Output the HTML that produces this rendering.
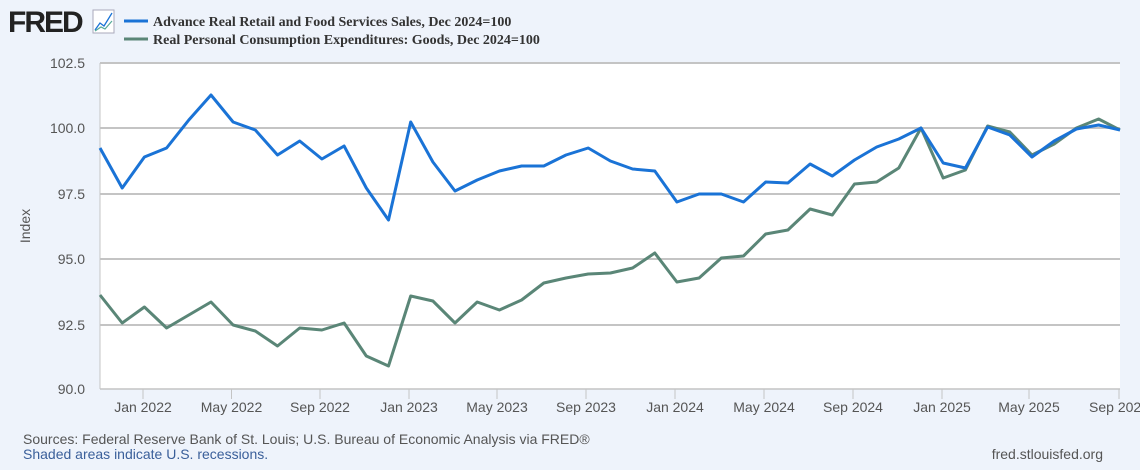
<!DOCTYPE html>
<html><head><meta charset="utf-8"><style>
body{margin:0;width:1140px;height:465px;background:#eef3fb;overflow:hidden;font-family:"Liberation Sans",sans-serif}
</style></head><body>
<svg width="1140" height="465" xmlns="http://www.w3.org/2000/svg">
<rect x="0" y="0" width="1140" height="465" fill="#eef3fb"/>
<rect x="100" y="63" width="1020" height="326" fill="#ffffff"/>
<g stroke="#c4c4c4" stroke-width="2">
<line x1="100" y1="63" x2="1120" y2="63"/>
<line x1="100" y1="128" x2="1120" y2="128"/>
<line x1="100" y1="194" x2="1120" y2="194"/>
<line x1="100" y1="259" x2="1120" y2="259"/>
<line x1="100" y1="325" x2="1120" y2="325"/>
</g>
<line x1="100" y1="389" x2="1120" y2="389" stroke="#c4c4c4" stroke-width="1.5"/>
<line x1="100" y1="63" x2="100" y2="389" stroke="#c4c4c4" stroke-width="1"/>
<g stroke="#c4c4c4" stroke-width="1">
<line x1="143" y1="389" x2="143" y2="399"/><line x1="231.5" y1="389" x2="231.5" y2="399"/>
<line x1="320" y1="389" x2="320" y2="399"/><line x1="409" y1="389" x2="409" y2="399"/>
<line x1="497" y1="389" x2="497" y2="399"/><line x1="586" y1="389" x2="586" y2="399"/>
<line x1="675" y1="389" x2="675" y2="399"/><line x1="764" y1="389" x2="764" y2="399"/>
<line x1="853" y1="389" x2="853" y2="399"/><line x1="942" y1="389" x2="942" y2="399"/>
<line x1="1029" y1="389" x2="1029" y2="399"/><line x1="1119" y1="389" x2="1119" y2="399"/>
</g>
<g font-size="14" fill="#555" text-anchor="end">
<text x="85" y="68">102.5</text><text x="85" y="133">100.0</text><text x="85" y="199">97.5</text>
<text x="85" y="264">95.0</text><text x="85" y="330">92.5</text><text x="85" y="394">90.0</text>
</g>
<g font-size="14" fill="#555" text-anchor="middle">
<text x="143" y="412">Jan 2022</text><text x="231.5" y="412">May 2022</text><text x="320" y="412">Sep 2022</text>
<text x="409" y="412">Jan 2023</text><text x="497" y="412">May 2023</text><text x="586" y="412">Sep 2023</text>
<text x="675" y="412">Jan 2024</text><text x="764" y="412">May 2024</text><text x="853" y="412">Sep 2024</text>
<text x="942" y="412">Jan 2025</text><text x="1029" y="412">May 2025</text><text x="1119" y="412">Sep 2025</text>
</g>
<text x="30" y="226" font-size="14" fill="#555" transform="rotate(-90 30 226)" text-anchor="middle">Index</text>
<polyline fill="none" stroke="#5a8677" stroke-width="3" stroke-linejoin="round" points="100,295 122.2,323 144.4,307 166.6,328 188.8,315 211,302 233.1,325 255.3,331 277.5,346 299.7,328 321.9,330 344.1,323 366.3,356 388.5,366 410.7,296 432.9,301 455,323 477.2,302 499.4,310 521.6,300 543.8,283 566,278 588.2,274 610.4,273 632.6,268 654.8,253 676.9,282 699.1,278 721.3,258 743.5,256 765.7,234 787.9,230 810.1,209 832.3,215 854.5,184 876.7,182 898.8,168 921,128 943.2,178 965.4,170 987.6,126 1009.8,132 1032,155 1054.2,144 1076.4,128 1098.6,119 1120,130"/>
<polyline fill="none" stroke="#1a73d6" stroke-width="3" stroke-linejoin="round" points="100,148 122.2,188 144.4,157 166.6,148 188.8,120 211,95 233.1,122 255.3,130 277.5,155 299.7,141 321.9,159 344.1,146 366.3,188 388.5,220 410.7,122 432.9,162 455,191 477.2,180 499.4,171 521.6,166 543.8,166 566,155 588.2,148 610.4,161 632.6,169 654.8,171 676.9,202 699.1,194 721.3,194 743.5,202 765.7,182 787.9,183 810.1,164 832.3,176 854.5,160 876.7,147 898.8,139 921,128 943.2,163 965.4,168 987.6,127 1009.8,135 1032,157 1054.2,141 1076.4,129 1098.6,125 1120,130"/>
<text x="8" y="32" font-size="30" font-weight="bold" fill="#222" letter-spacing="-2">FRED</text>
<rect x="93" y="10" width="21" height="23" fill="#fff" stroke="#aab" stroke-width="1"/>
<polyline points="95,30 100,23 104,26 112,13" fill="none" stroke="#1a73d6" stroke-width="1.3"/>
<polyline points="95,31 101,27 105,29 112,21" fill="none" stroke="#5a9" stroke-width="1.2"/>
<line x1="124" y1="21" x2="148" y2="21" stroke="#1a73d6" stroke-width="3"/>
<line x1="124" y1="39" x2="148" y2="39" stroke="#5a8677" stroke-width="3"/>
<g font-family="Liberation Serif,serif" font-weight="bold" font-size="14" fill="#333">
<text x="153" y="26">Advance Real Retail and Food Services Sales, Dec 2024=100</text>
<text x="153" y="44">Real Personal Consumption Expenditures: Goods, Dec 2024=100</text>
</g>
<text x="23" y="444" font-size="14" fill="#555">Sources: Federal Reserve Bank of St. Louis; U.S. Bureau of Economic Analysis via FRED®</text>
<text x="23" y="459" font-size="14" fill="#3a5f9a">Shaded areas indicate U.S. recessions.</text>
<text x="1103" y="459" font-size="14" fill="#555" text-anchor="end">fred.stlouisfed.org</text>
</svg>
</body></html>
